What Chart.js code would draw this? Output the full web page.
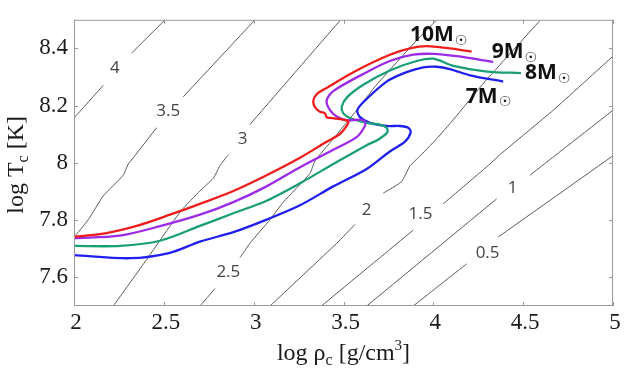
<!DOCTYPE html>
<html>
<head>
<meta charset="utf-8">
<script src="https://cdn.jsdelivr.net/npm/chart.js@4.4.1/dist/chart.umd.min.js"></script>
<style>
  body { margin: 0; background: #fff; }
  canvas { display: block; }
</style>
</head>
<body>
<canvas id="chart" width="628" height="371"></canvas>
<script>
var xTicks = [2, 2.5, 3, 3.5, 4, 4.5, 5];
var yTicks = [7.6, 7.8, 8, 8.2, 8.4];

// evolution tracks, [log rho_c, log T_c]
var m10 = [[2.000,7.742],[2.173,7.754],[2.349,7.780],[2.534,7.819],[2.701,7.857],[2.887,7.902],[3.072,7.957],[3.258,8.018],[3.406,8.074],[3.480,8.101],[3.518,8.129],[3.526,8.145],[3.499,8.151],[3.425,8.157],[3.406,8.160],[3.397,8.173],[3.369,8.179],[3.341,8.195],[3.332,8.217],[3.351,8.240],[3.406,8.262],[3.573,8.323],[3.758,8.378],[3.870,8.400],[3.963,8.408],[4.092,8.400],[4.213,8.389]];
var m9 = [[2.000,7.737],[2.256,7.746],[2.479,7.779],[2.701,7.819],[2.887,7.863],[3.072,7.918],[3.258,7.985],[3.443,8.046],[3.573,8.090],[3.619,8.129],[3.619,8.145],[3.592,8.151],[3.518,8.149],[3.462,8.162],[3.425,8.184],[3.406,8.217],[3.443,8.251],[3.629,8.317],[3.758,8.356],[3.888,8.378],[4.000,8.381],[4.130,8.373],[4.333,8.353]];
var m8 = [[2.000,7.710],[2.256,7.710],[2.479,7.728],[2.701,7.780],[2.887,7.824],[3.072,7.868],[3.258,7.929],[3.443,7.996],[3.629,8.062],[3.692,8.081],[3.744,8.107],[3.740,8.123],[3.703,8.134],[3.629,8.140],[3.536,8.157],[3.499,8.173],[3.490,8.195],[3.518,8.228],[3.610,8.273],[3.758,8.323],[3.907,8.356],[4.000,8.364],[4.111,8.339],[4.298,8.319],[4.488,8.314]];
var m7 = [[2.000,7.678],[2.312,7.667],[2.534,7.686],[2.701,7.725],[2.887,7.758],[3.072,7.802],[3.258,7.852],[3.443,7.918],[3.629,7.979],[3.758,8.040],[3.842,8.074],[3.874,8.107],[3.860,8.123],[3.814,8.129],[3.740,8.129],[3.647,8.140],[3.592,8.160],[3.577,8.184],[3.610,8.212],[3.740,8.284],[3.851,8.317],[3.944,8.334],[4.018,8.336],[4.092,8.328],[4.204,8.306],[4.389,8.284]];
var massNames = ['10', '9', '8', '7'];
var massLabelAt = [[3.870,8.447],[4.325,8.387],[4.510,8.314],[4.181,8.231]];
var trackColors = ['#f01c1c', '#9b2be6', '#1a9e78', '#1f1fee'];

// contour lines, null = gap for the label
var c4 = [[2.000,8.157],[2.163,8.271], null, [2.321,8.384],[2.502,8.497]];
var c35 = [[2.000,7.740],[2.080,7.802],[2.163,7.885],[2.274,7.957],[2.302,7.996],[2.330,8.018],[2.460,8.123], null, [2.608,8.231],[3.003,8.497]];
var c3 = [[2.219,7.500],[2.405,7.663],[2.516,7.763],[2.599,7.835],[2.701,7.902],[2.775,7.946],[2.812,7.990],[2.859,8.029], null, [2.979,8.134],[3.480,8.497]];
var c25 = [[2.701,7.500],[2.785,7.561], null, [2.924,7.669],[2.979,7.719],[3.091,7.802],[3.165,7.863],[3.313,7.963],[3.341,8.007],[3.443,8.084],[3.573,8.184],[3.684,8.273],[3.907,8.428],[4.015,8.497]];
var c2 = [[3.091,7.500],[3.462,7.719],[3.564,7.785], null, [3.721,7.894],[3.824,7.935],[3.870,7.990],[3.916,8.018],[4.018,8.084],[4.111,8.151],[4.287,8.284],[4.593,8.497]];
var c15 = [[3.377,7.500],[3.888,7.765], null, [4.055,7.857],[4.315,7.996],[4.371,8.029],[4.667,8.184],[5.000,8.373]];
var c1 = [[3.629,7.500],[4.352,7.874], null, [4.538,7.957],[5.000,8.184]];
var c05 = [[3.888,7.500],[4.185,7.647], null, [4.361,7.741],[5.000,8.025]];
var contourLabels = ['4', '3.5', '3', '2.5', '2', '1.5', '1', '0.5'];
var contourLabelAt = [[2.228,8.330],[2.525,8.181],[2.939,8.084],[2.859,7.619],[3.629,7.835],[3.929,7.821],[4.441,7.913],[4.302,7.686]];

function toPoints(arr) {
  return arr.map(function(p){ return p ? {x: p[0], y: p[1]} : {x: null, y: null}; });
}

var datasets = [];
[m10, m9, m8, m7].forEach(function(track, i){
  datasets.push({
    data: toPoints(track), borderColor: trackColors[i], borderWidth: 2.3,
    pointRadius: 0, tension: 0.3, order: 0
  });
});
[c4, c35, c3, c25, c2, c15, c1, c05].forEach(function(c){
  datasets.push({
    data: toPoints(c), borderColor: '#5a5a5a', borderWidth: 1,
    pointRadius: 0, tension: 0.15, spanGaps: false, order: 1
  });
});

// draws text pieces with sub/superscripts, centred on x
function richText(ctx, parts, x, y) {
  var total = 0;
  parts.forEach(function(p){
    ctx.font = p.size + 'px "Liberation Serif", "Times New Roman", serif';
    p.w = ctx.measureText(p.t).width;
    total += p.w;
  });
  var cx = x - total / 2;
  parts.forEach(function(p){
    ctx.font = p.size + 'px "Liberation Serif", "Times New Roman", serif';
    ctx.fillText(p.t, cx, y + (p.dy || 0));
    cx += p.w;
  });
}

var decorations = {
  id: 'decorations',
  afterDatasetsDraw: function(chart) {
    var ctx = chart.ctx, a = chart.chartArea;
    var xs = chart.scales.x, ys = chart.scales.y;
    ctx.save();

    // frame with inward ticks
    ctx.strokeStyle = '#9a9a9a';
    ctx.lineWidth = 1;
    ctx.strokeRect(a.left + 0.5, a.top + 0.5, a.right - a.left - 1, a.bottom - a.top - 1);
    ctx.beginPath();
    xTicks.forEach(function(v){
      var px = Math.round(xs.getPixelForValue(v)) + 0.5;
      ctx.moveTo(px, a.bottom); ctx.lineTo(px, a.bottom - 4);
      ctx.moveTo(px, a.top); ctx.lineTo(px, a.top + 4);
    });
    yTicks.forEach(function(v){
      var py = Math.round(ys.getPixelForValue(v)) + 0.5;
      ctx.moveTo(a.left, py); ctx.lineTo(a.left + 4, py);
      ctx.moveTo(a.right, py); ctx.lineTo(a.right - 4, py);
    });
    ctx.stroke();

    // contour labels
    ctx.fillStyle = '#444';
    ctx.font = '17px "Open Sans", "Noto Sans", sans-serif';
    ctx.textAlign = 'center';
    ctx.textBaseline = 'middle';
    contourLabels.forEach(function(t, i){
      ctx.fillText(t, xs.getPixelForValue(contourLabelAt[i][0]), ys.getPixelForValue(contourLabelAt[i][1]));
    });

    // mass labels
    ctx.fillStyle = '#111';
    ctx.textAlign = 'left';
    massNames.forEach(function(n, i){
      var px = xs.getPixelForValue(massLabelAt[i][0]);
      var py = ys.getPixelForValue(massLabelAt[i][1]);
      ctx.font = 'bold 21px "Noto Sans", "DejaVu Sans", sans-serif';
      ctx.textBaseline = 'middle';
      var t = n + 'M';
      ctx.fillText(t, px, py);
      var w = ctx.measureText(t).width;
      ctx.font = 'bold 14px "DejaVu Sans", sans-serif';
      ctx.fillText('\u2609', px + w + 1, py + 6);
    });

    // axis titles
    ctx.fillStyle = '#1a1a1a';
    ctx.textAlign = 'left';
    ctx.textBaseline = 'alphabetic';
    richText(ctx, [
      {t: 'log \u03c1', size: 24},
      {t: 'c', size: 16, dy: 5},
      {t: ' [g/cm', size: 24},
      {t: '3', size: 15, dy: -10},
      {t: ']', size: 24}
    ], (a.left + a.right) / 2, 360);

    ctx.translate(23, (a.top + a.bottom) / 2 + 2);
    ctx.rotate(-Math.PI / 2);
    richText(ctx, [
      {t: 'log T', size: 24},
      {t: 'c', size: 16, dy: 5},
      {t: ' [K]', size: 24}
    ], 0, 0);
    ctx.restore();
  }
};

function fmt(v) { return String(Math.round(v * 10) / 10); }

new Chart(document.getElementById('chart'), {
  type: 'line',
  data: { datasets: datasets },
  options: {
    responsive: false,
    animation: false,
    events: [],
    layout: { padding: { left: 0, right: 15, top: 5, bottom: 0 } },
    plugins: { legend: { display: false }, tooltip: { enabled: false } },
    scales: {
      x: {
        type: 'linear', min: 2, max: 5,
        afterBuildTicks: function(s){ s.ticks = xTicks.map(function(v){ return {value: v}; }); },
        afterFit: function(s){ s.height = 65; },
        grid: { display: false, drawTicks: false },
        border: { display: false },
        ticks: {
          callback: fmt, color: '#1a1a1a', padding: 3, labelOffset: 2,
          maxRotation: 0, autoSkip: false,
          font: { family: '"Liberation Serif", "Times New Roman", serif', size: 23 }
        }
      },
      y: {
        type: 'linear', min: 7.5, max: 8.5,
        afterBuildTicks: function(s){ s.ticks = yTicks.map(function(v){ return {value: v}; }); },
        afterFit: function(s){ s.width = 74; },
        grid: { display: false, drawTicks: false },
        border: { display: false },
        ticks: {
          callback: fmt, color: '#1a1a1a', padding: 6, autoSkip: false,
          font: { family: '"Liberation Serif", "Times New Roman", serif', size: 23 }
        }
      }
    }
  },
  plugins: [decorations]
});
</script>
</body>
</html>
